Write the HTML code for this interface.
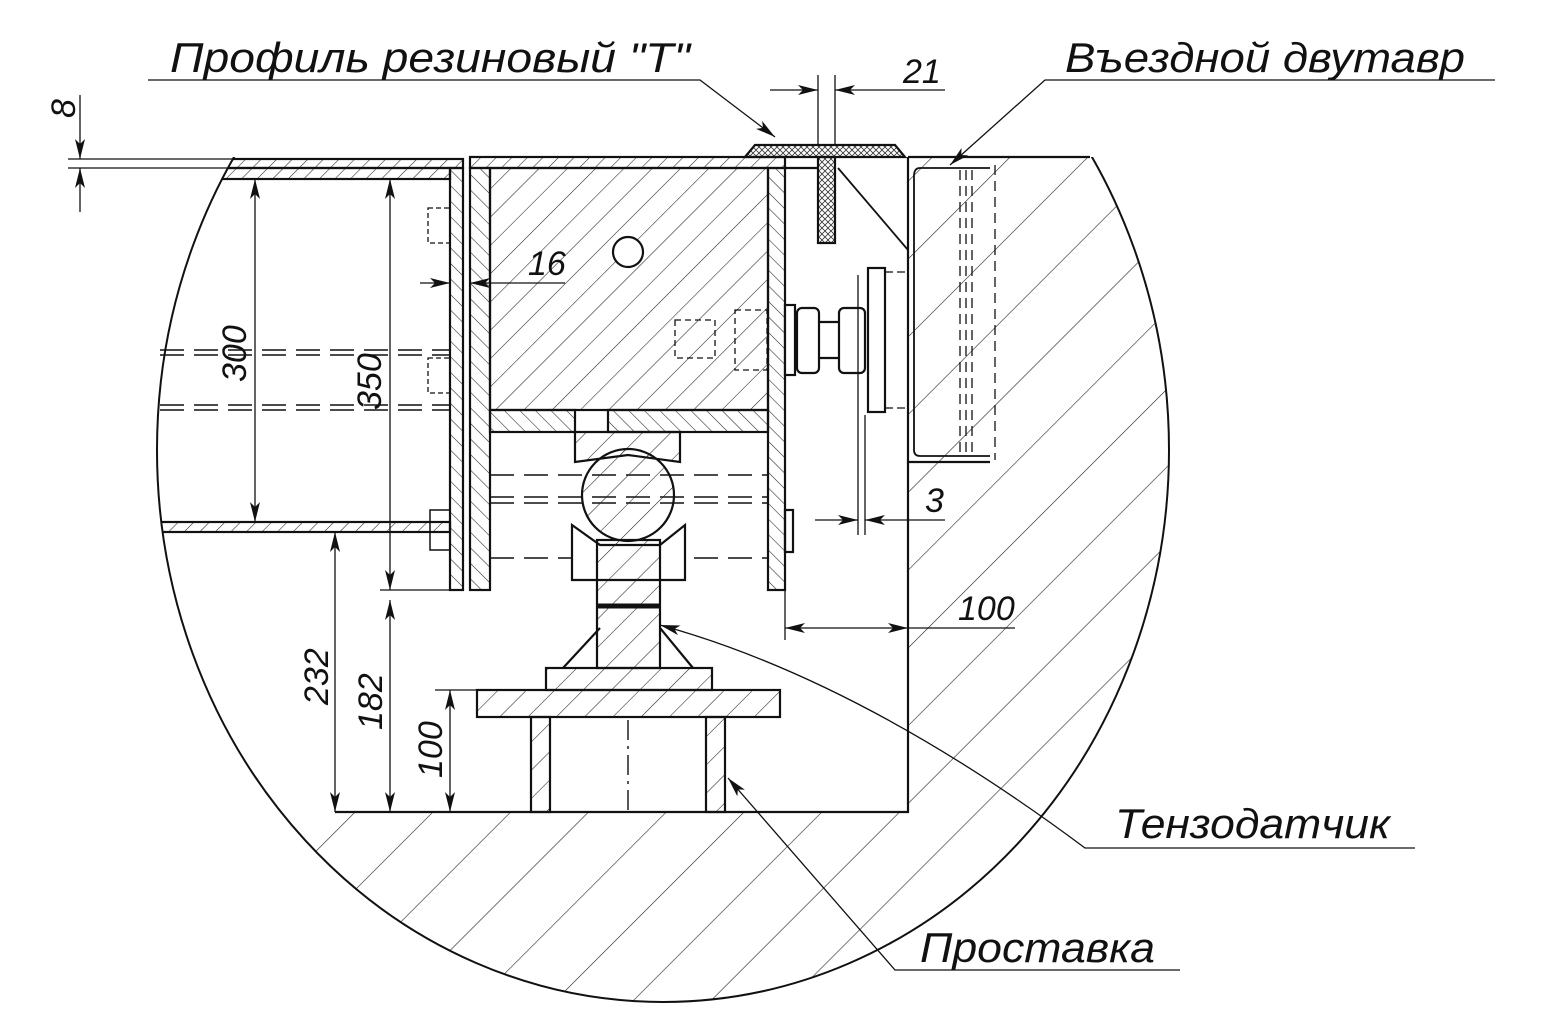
<!DOCTYPE html>
<html><head><meta charset="utf-8"><style>
html,body{margin:0;padding:0;background:#fff}
svg{display:block}
text{font-family:"Liberation Sans",sans-serif;font-style:italic;fill:#111}
</style></head><body>
<svg width="1558" height="1010" viewBox="0 0 1558 1010" xmlns="http://www.w3.org/2000/svg">
<defs>
<pattern id="hB" width="55" height="55" patternUnits="userSpaceOnUse" patternTransform="rotate(45)"><line x1="0" y1="0" x2="0" y2="55" stroke="#222" stroke-width="1.2"/></pattern>
<pattern id="h1" width="11" height="11" patternUnits="userSpaceOnUse" patternTransform="rotate(45)"><line x1="0" y1="0" x2="0" y2="11" stroke="#222" stroke-width="1.1"/></pattern>
<pattern id="h2" width="11" height="11" patternUnits="userSpaceOnUse" patternTransform="rotate(-45)"><line x1="0" y1="0" x2="0" y2="11" stroke="#222" stroke-width="1.1"/></pattern>
<pattern id="h3" width="20" height="20" patternUnits="userSpaceOnUse" patternTransform="rotate(45)"><line x1="0" y1="0" x2="0" y2="20" stroke="#222" stroke-width="1.1"/></pattern>
<pattern id="hx" width="6" height="6" patternUnits="userSpaceOnUse"><path d="M0,0L6,6M6,0L0,6" stroke="#333" stroke-width="0.8"/></pattern>
<clipPath id="ell"><rect x="0" y="157" width="1558" height="900"/></clipPath>
<clipPath id="ellin"><ellipse cx="663" cy="450" rx="506" ry="552"/></clipPath>
<marker id="ar" viewBox="0 0 20 10" refX="20" refY="5" markerWidth="20" markerHeight="10" orient="auto-start-reverse" markerUnits="userSpaceOnUse"><path d="M0,0L20,5L0,10L5,5Z" fill="#111"/></marker>
</defs>
<g clip-path="url(#ellin)">
<path d="M908,157H1200V1010H100V812H908Z" fill="url(#hB)" clip-path="url(#ell)"/>
</g>
<g clip-path="url(#ell)">
<ellipse cx="663" cy="450" rx="506" ry="552" fill="none" stroke="#111" stroke-width="2"/>
</g>
<g stroke="#111" stroke-width="2.2" fill="none">
<path d="M908,462V812H335"/>
<line x1="1090" y1="157" x2="908" y2="157"/>
<g clip-path="url(#ellin)">
<rect x="150" y="159" width="313" height="9" fill="url(#h1)"/>
<rect x="150" y="168" width="300" height="11" fill="url(#h1)"/>
<rect x="150" y="522" width="300" height="10" fill="url(#h1)"/>
</g>
<g stroke-dasharray="24,10" stroke-width="1.5">
<line x1="160" y1="350" x2="450" y2="350"/><line x1="160" y1="355" x2="450" y2="355"/>
<line x1="160" y1="405" x2="450" y2="405"/><line x1="160" y1="410" x2="450" y2="410"/>
<line x1="490" y1="475" x2="768" y2="475"/><line x1="490" y1="497" x2="768" y2="497"/><line x1="490" y1="503" x2="768" y2="503"/><line x1="490" y1="558" x2="768" y2="558"/>
</g>
<rect x="450" y="168" width="13" height="422" fill="url(#h2)"/>
<rect x="470" y="157" width="315" height="11" fill="url(#h1)"/>
<rect x="470" y="168" width="20" height="422" fill="url(#h2)"/>
<rect x="768" y="168" width="17" height="422" fill="url(#h2)"/>
<rect x="490" y="168" width="278" height="242" fill="url(#h3)"/>
<circle cx="628" cy="252" r="15" fill="#fff"/>
<rect x="490" y="410" width="85" height="22" fill="url(#h2)"/>
<rect x="608" y="410" width="160" height="22" fill="url(#h2)"/>
<path d="M575,432H680V462L628,455L575,462Z" fill="url(#h3)"/>
<circle cx="628" cy="495" r="46" fill="url(#h3)"/>
<path d="M572,525L600,545H660L685,525V580H572Z" fill="#fff"/>
<rect x="597" y="540" width="63" height="128" fill="url(#h3)"/>
<line x1="597" y1="606" x2="660" y2="606" stroke-width="5"/>
<path d="M563,668L600,628M660,628L693,668"/>
<rect x="546" y="668" width="166" height="22" fill="url(#h3)"/>
<rect x="477" y="690" width="303" height="27" fill="url(#h3)"/>
<rect x="531" y="717" width="19" height="95" fill="url(#h3)"/>
<rect x="706" y="717" width="19" height="95" fill="url(#h3)"/>
<line x1="628" y1="720" x2="628" y2="812" stroke-dasharray="20,6,3,6" stroke-width="1.4"/>
<rect x="428" y="208" width="22" height="35" stroke-dasharray="5,3" stroke-width="1.3"/>
<rect x="428" y="358" width="22" height="35" stroke-dasharray="5,3" stroke-width="1.3"/>
<rect x="430" y="510" width="20" height="40" stroke-width="1.5"/>
<path d="M908,157V462H990" />
<path d="M990,168H920Q914,168 914,176V450Q914,456 920,456H990" stroke-width="1.8"/>
<g stroke-dasharray="10,6" stroke-width="1.3"><line x1="960" y1="170" x2="960" y2="455"/><line x1="966" y1="170" x2="966" y2="455"/><line x1="972" y1="170" x2="972" y2="455"/><line x1="995" y1="165" x2="995" y2="460"/></g>
<path d="M838,168L908,250" stroke-width="1.8"/>
<rect x="868" y="268" width="17" height="144" fill="#fff"/>
<line x1="885" y1="272" x2="908" y2="272" stroke-dasharray="8,4" stroke-width="1.3"/>
<line x1="885" y1="408" x2="908" y2="408" stroke-dasharray="8,4" stroke-width="1.3"/>
<rect x="785" y="305" width="10" height="70" fill="#fff"/>
<rect x="797" y="308" width="22" height="65" rx="5" fill="#fff"/>
<rect x="839" y="308" width="26" height="65" rx="5" fill="#fff"/>
<line x1="819" y1="322" x2="839" y2="322"/><line x1="819" y1="358" x2="839" y2="358"/>
<rect x="675" y="320" width="40" height="38" stroke-dasharray="6,4" stroke-width="1.3"/>
<rect x="735" y="310" width="32" height="60" stroke-dasharray="6,4" stroke-width="1.3"/>
<rect x="785" y="510" width="8" height="42"/>
<path d="M745,157L755,145H895L905,157Z" fill="url(#hx)"/>
<rect x="818" y="157" width="17" height="86" fill="url(#hx)"/>
<line x1="785" y1="168" x2="818" y2="168"/>
</g>
<g stroke="#111" stroke-width="1.3" fill="none">
<line x1="68" y1="159" x2="235" y2="159"/><line x1="68" y1="168" x2="228" y2="168"/>
<line x1="80" y1="95" x2="80" y2="159" marker-end="url(#ar)"/><line x1="80" y1="212" x2="80" y2="168" marker-end="url(#ar)"/>
<line x1="255" y1="179" x2="255" y2="522" marker-start="url(#ar)" marker-end="url(#ar)"/>
<line x1="390" y1="179" x2="390" y2="590" marker-start="url(#ar)" marker-end="url(#ar)"/>
<line x1="380" y1="590" x2="450" y2="590"/>
<line x1="335" y1="532" x2="335" y2="812" marker-start="url(#ar)" marker-end="url(#ar)"/>
<line x1="390" y1="600" x2="390" y2="812" marker-start="url(#ar)" marker-end="url(#ar)"/>
<line x1="450" y1="690" x2="450" y2="812" marker-start="url(#ar)" marker-end="url(#ar)"/>
<line x1="435" y1="690" x2="477" y2="690"/>
<line x1="420" y1="283" x2="450" y2="283" marker-end="url(#ar)"/><line x1="565" y1="283" x2="470" y2="283" marker-end="url(#ar)"/>
<line x1="770" y1="90" x2="818" y2="90" marker-end="url(#ar)"/><line x1="945" y1="90" x2="835" y2="90" marker-end="url(#ar)"/>
<line x1="818" y1="75" x2="818" y2="145"/><line x1="835" y1="75" x2="835" y2="145"/>
<line x1="858" y1="275" x2="858" y2="535"/><line x1="865" y1="415" x2="865" y2="535"/>
<line x1="815" y1="520" x2="858" y2="520" marker-end="url(#ar)"/><line x1="945" y1="520" x2="865" y2="520" marker-end="url(#ar)"/>
<line x1="785" y1="590" x2="785" y2="640"/>
<line x1="785" y1="628" x2="908" y2="628" marker-start="url(#ar)" marker-end="url(#ar)"/><line x1="908" y1="628" x2="1015" y2="628"/>
<path d="M148,80H700L775,137" marker-end="url(#ar)"/>
<path d="M1495,80H1045L950,165" marker-end="url(#ar)"/>
<path d="M1415,848H1085Q860,680 660,625" marker-end="url(#ar)"/>
<path d="M1180,970H895L728,778" marker-end="url(#ar)"/>
</g>
<g font-size="42">
<text x="170" y="72" textLength="520" lengthAdjust="spacingAndGlyphs">Профиль резиновый "T"</text>
<text x="1065" y="72" textLength="400" lengthAdjust="spacingAndGlyphs">Въездной двутавр</text>
<text x="1115" y="838" textLength="275" lengthAdjust="spacingAndGlyphs">Тензодатчик</text>
<text x="920" y="962" textLength="235" lengthAdjust="spacingAndGlyphs">Проставка</text>
</g>
<g font-size="34">
<text x="903" y="83">21</text>
<text x="528" y="275">16</text>
<text x="925" y="512">3</text>
<text x="958" y="620">100</text>
<text transform="translate(75,118) rotate(-90)">8</text>
<text transform="translate(246,382) rotate(-90)">300</text>
<text transform="translate(381,410) rotate(-90)">350</text>
<text transform="translate(328,705) rotate(-90)">232</text>
<text transform="translate(382,730) rotate(-90)">182</text>
<text transform="translate(442,778) rotate(-90)">100</text>
</g>
</svg>
</body></html>
